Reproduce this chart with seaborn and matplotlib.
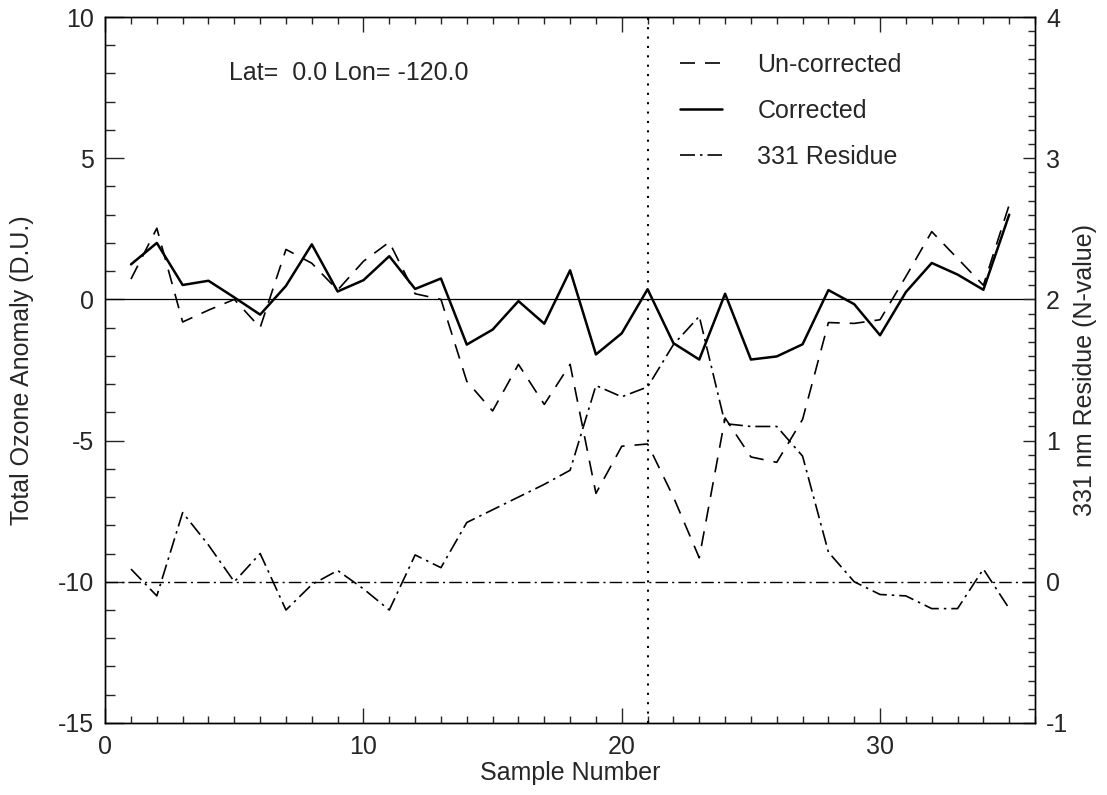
import numpy as np
import matplotlib
matplotlib.use("Agg")
import matplotlib.pyplot as plt
import seaborn as sns
from matplotlib.ticker import MultipleLocator

sns.set_style("ticks")
plt.rcParams["font.family"] = ["Liberation Sans", "DejaVu Sans"]
plt.rcParams["axes.unicode_minus"] = False

# sample numbers along the track
sample = np.arange(1, 36)

# total ozone anomaly (D.U.), left axis
uncorrected = [0.72, 2.52, -0.80, -0.38, 0.0, -1.0, 1.77, 1.28, 0.33, 1.35,
               2.03, 0.20, 0.0, -2.9, -3.95, -2.3, -3.72, -2.3, -6.87, -5.2,
               -5.12, -7.0, -9.15, -4.2, -5.58, -5.77, -4.25, -0.82, -0.85, -0.72,
               0.81, 2.4, 1.45, 0.5, 3.35]
corrected = [1.24, 2.0, 0.51, 0.66, 0.07, -0.54, 0.48, 1.95, 0.28, 0.68,
             1.53, 0.37, 0.74, -1.60, -1.07, -0.06, -0.86, 1.03, -1.95, -1.20,
             0.36, -1.55, -2.13, 0.20, -2.13, -2.02, -1.59, 0.33, -0.17, -1.27,
             0.26, 1.29, 0.88, 0.34, 3.0]

# 331 nm residue (N-value), right axis
residue = [0.09, -0.10, 0.49, 0.26, 0.0, 0.20, -0.20, -0.02, 0.08, -0.05,
           -0.20, 0.19, 0.10, 0.42, 0.51, 0.60, 0.69, 0.79, 1.39, 1.31,
           1.38, 1.68, 1.88, 1.12, 1.10, 1.10, 0.89, 0.21, 0.0, -0.09,
           -0.10, -0.19, -0.19, 0.09, -0.19]

marker_sample = 21
title_text = "Lat=  0.0 Lon= -120.0"

FS = 18
DASHED = (0, (9, 6))
DASHDOT = (0, (9, 3, 1.5, 3))

fig = plt.figure(figsize=(11.07, 7.95), dpi=100)
ax = fig.add_axes([0.095, 0.0906, 0.840, 0.888])
ax2 = ax.twinx()

sns.lineplot(x=sample, y=uncorrected, ax=ax, color="black", lw=1.2,
             linestyle=DASHED, label="Un-corrected", legend=False)
sns.lineplot(x=sample, y=corrected, ax=ax, color="black", lw=1.8,
             linestyle="-", label="Corrected", legend=False)
sns.lineplot(x=sample, y=residue, ax=ax2, color="black", lw=1.2,
             linestyle=DASHDOT, label="331 Residue", legend=False)

# reference lines
ax.axhline(0, color="black", lw=0.9)
ax2.axhline(0, color="black", lw=1.0, linestyle=DASHDOT)
ax.axvline(marker_sample, color="black", lw=1.5, linestyle=(0, (1, 3.5)))

ax.set_xlim(0, 36)
ax.set_ylim(-15, 10)
ax2.set_ylim(-1, 4)

ax.xaxis.set_major_locator(MultipleLocator(10))
ax.xaxis.set_minor_locator(MultipleLocator(1))
ax.yaxis.set_major_locator(MultipleLocator(5))
ax.yaxis.set_minor_locator(MultipleLocator(1))
ax2.yaxis.set_major_locator(MultipleLocator(1))
ax2.yaxis.set_minor_locator(MultipleLocator(0.1))

ax.tick_params(axis="x", which="both", direction="in", top=True, bottom=True,
               labelsize=FS, pad=9, width=1.0)
ax.tick_params(axis="x", which="major", length=11)
ax.tick_params(axis="x", which="minor", length=5)
ax.tick_params(axis="y", which="both", direction="in", left=True, right=False,
               labelsize=FS, pad=8, width=1.0)
ax.tick_params(axis="y", which="major", length=14)
ax.tick_params(axis="y", which="minor", length=7)
ax2.tick_params(axis="y", which="both", direction="in", right=True, left=False,
                labelsize=FS, pad=8, width=1.0)
ax2.tick_params(axis="y", which="major", length=9)
ax2.tick_params(axis="y", which="minor", length=5)

for a in (ax, ax2):
    for s in a.spines.values():
        s.set_linewidth(1.0)
        s.set_color("black")

ax.set_xlabel("Sample Number", fontsize=FS)
ax.set_ylabel("Total Ozone Anomaly (D.U.)", fontsize=FS)
ax2.set_ylabel("331 nm Residue (N-value)", fontsize=FS)
ax.xaxis.set_label_coords(0.5, -0.054)
ax.yaxis.set_label_coords(-0.076, 0.5)
ax2.yaxis.set_label_coords(1.041, 0.5)

ax.text(4.8, 8.0, title_text, fontsize=FS, ha="left", va="center")

handles = ax.get_lines()[:2] + ax2.get_lines()[:1]
labels = ["Un-corrected", "Corrected", "331 Residue"]
ax.legend(handles, labels, loc="upper left", bbox_to_anchor=(0.618, 0.949),
          frameon=False, fontsize=FS, handlelength=1.7, handletextpad=1.4,
          labelspacing=0.88, borderpad=0, borderaxespad=0)

fig.savefig("out.png", dpi=100, facecolor="white")
